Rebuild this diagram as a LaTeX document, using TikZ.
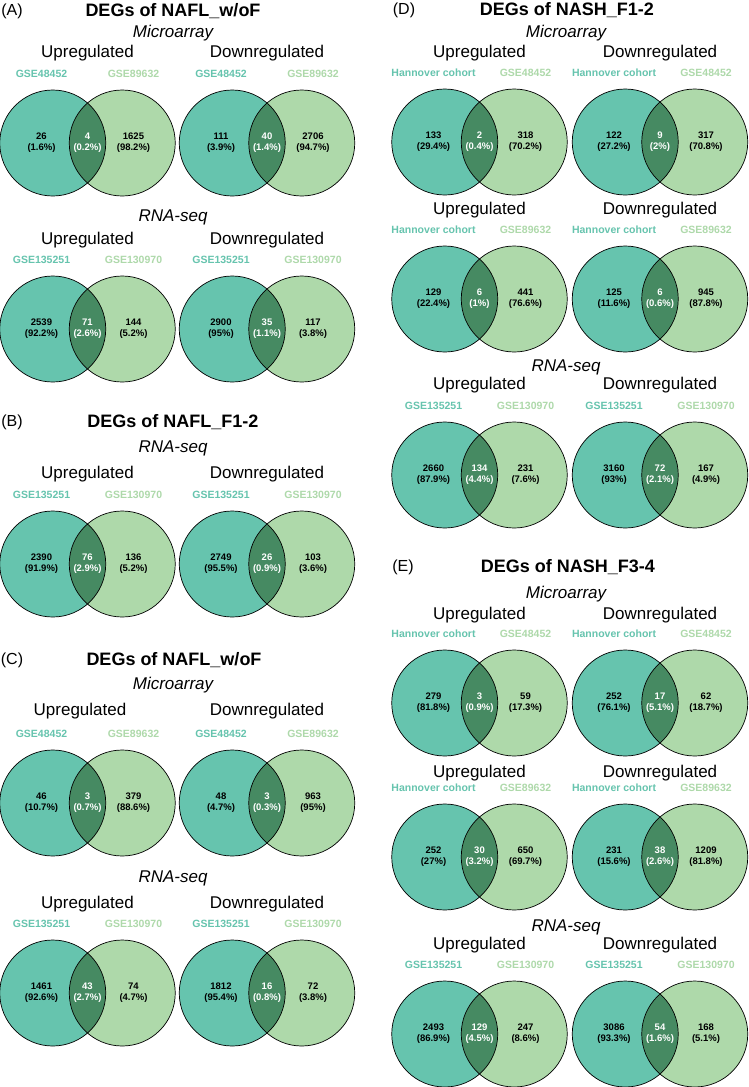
\documentclass[tikz,border=0pt]{standalone}
\usepackage{fontspec}
\setmainfont{Liberation Sans}
\definecolor{vteal}{HTML}{66C4AE}
\definecolor{vgreen}{HTML}{AED9AA}
\definecolor{vdark}{HTML}{468A62}
\tikzset{
  vline/.style={draw=black,line width=0.7pt},
  panel/.style={font=\fontsize{16}{18}\selectfont,inner sep=0pt},
  ptitle/.style={font=\bfseries\fontsize{18}{20}\selectfont,inner sep=0pt},
  method/.style={font=\itshape\fontsize{17}{19}\selectfont,inner sep=0pt},
  regul/.style={font=\fontsize{17}{19}\selectfont,inner sep=0pt},
  setL/.style={font=\bfseries\fontsize{10.5}{12}\selectfont,text=vteal,inner sep=0pt},
  setR/.style={font=\bfseries\fontsize{10.5}{12}\selectfont,text=vgreen,inner sep=0pt},
  num/.style={font=\bfseries\fontsize{9.5}{11}\selectfont,align=center,inner sep=0pt},
}
\newcommand\myvenn[8]{%
  \coordinate (#1cl) at ({#2-34.75},#3);
  \coordinate (#1cr) at ({#2+34.75},#3);
  \fill[vteal] (#1cl) circle (53pt);
  \fill[vgreen] (#1cr) circle (53pt);
  \begin{scope}\clip (#1cl) circle (53pt); \fill[vdark] (#1cr) circle (53pt);\end{scope}
  \draw[vline] (#1cl) circle (53pt) (#1cr) circle (53pt);
  \node[setL] (#1labL) at ({#2-46},{#3-69}) {#4};
  \node[setR] (#1labR) at ({#2+46},{#3-69}) {#5};
  \node[num] (#1nL) at ({#2-46},#3) {#6};
  \node[num,text=white] (#1nI) at (#2,#3) {#7};
  \node[num] (#1nR) at ({#2+46},#3) {#8};
}
\begin{document}
\begin{tikzpicture}[x=1pt,y=-1pt]
\useasboundingbox[fill=white] (0,0) rectangle (748,1087);
% ---------- (A)
\node[panel] (pA) at (12,11) {(A)};
\node[ptitle] (tA) at (173,11) {DEGs of NAFL\_w/oF};
\node[method] (mA1) at (173,33) {Microarray};
\node[regul] (uA1) at (87.5,53) {Upregulated};
\node[regul] (dA1) at (267,53) {Downregulated};
\myvenn{Au1}{87.5}{143}{GSE48452}{GSE89632}{26\\(1.6\%)}{4\\(0.2\%)}{1625\\(98.2\%)}
\myvenn{Ad1}{267}{143}{GSE48452}{GSE89632}{111\\(3.9\%)}{40\\(1.4\%)}{2706\\(94.7\%)}
\node[method] (mA2) at (173,217) {RNA-seq};
\node[regul] (uA2) at (87.5,240) {Upregulated};
\node[regul] (dA2) at (267,240) {Downregulated};
\myvenn{Au2}{87.5}{329}{GSE135251}{GSE130970}{2539\\(92.2\%)}{71\\(2.6\%)}{144\\(5.2\%)}
\myvenn{Ad2}{267}{329}{GSE135251}{GSE130970}{2900\\(95\%)}{35\\(1.1\%)}{117\\(3.8\%)}
% ---------- (B)
\node[panel] (pB) at (12,422) {(B)};
\node[ptitle] (tB) at (173,422) {DEGs of NAFL\_F1-2};
\node[method] (mB1) at (173,448) {RNA-seq};
\node[regul] (uB1) at (87.5,474) {Upregulated};
\node[regul] (dB1) at (267,474) {Downregulated};
\myvenn{Bu1}{87.5}{564}{GSE135251}{GSE130970}{2390\\(91.9\%)}{76\\(2.9\%)}{136\\(5.2\%)}
\myvenn{Bd1}{267}{564}{GSE135251}{GSE130970}{2749\\(95.5\%)}{26\\(0.9\%)}{103\\(3.6\%)}
% ---------- (C)
\node[panel] (pC) at (12,660) {(C)};
\node[ptitle] (tC) at (174,660) {DEGs of NAFL\_w/oF};
\node[method] (mC1) at (173,685) {Microarray};
\node[regul] (uC1) at (80,711) {Upregulated};
\node[regul] (dC1) at (267,711) {Downregulated};
\myvenn{Cu1}{87.5}{803}{GSE48452}{GSE89632}{46\\(10.7\%)}{3\\(0.7\%)}{379\\(88.6\%)}
\myvenn{Cd1}{267}{803}{GSE48452}{GSE89632}{48\\(4.7\%)}{3\\(0.3\%)}{963\\(95\%)}
\node[method] (mC2) at (173,878) {RNA-seq};
\node[regul] (uC2) at (87.5,904) {Upregulated};
\node[regul] (dC2) at (267,904) {Downregulated};
\myvenn{Cu2}{87.5}{993}{GSE135251}{GSE130970}{1461\\(92.6\%)}{43\\(2.7\%)}{74\\(4.7\%)}
\myvenn{Cd2}{267}{993}{GSE135251}{GSE130970}{1812\\(95.4\%)}{16\\(0.8\%)}{72\\(3.8\%)}
% ---------- (D)
\node[panel] (pD) at (404,10) {(D)};
\node[ptitle] (tD) at (567,10) {DEGs of NASH\_F1-2};
\node[method] (mD1) at (566,33) {Microarray};
\node[regul] (uD1) at (479.5,53) {Upregulated};
\node[regul] (dD1) at (660,53) {Downregulated};
\myvenn{Du1}{479.5}{142}{Hannover cohort}{GSE48452}{133\\(29.4\%)}{2\\(0.4\%)}{318\\(70.2\%)}
\myvenn{Dd1}{660}{142}{Hannover cohort}{GSE48452}{122\\(27.2\%)}{9\\(2\%)}{317\\(70.8\%)}
\node[regul] (uD2) at (479.5,210) {Upregulated};
\node[regul] (dD2) at (660,210) {Downregulated};
\myvenn{Du2}{479.5}{299}{Hannover cohort}{GSE89632}{129\\(22.4\%)}{6\\(1\%)}{441\\(76.6\%)}
\myvenn{Dd2}{660}{299}{Hannover cohort}{GSE89632}{125\\(11.6\%)}{6\\(0.6\%)}{945\\(87.8\%)}
\node[method] (mD2) at (566,367) {RNA-seq};
\node[regul] (uD3) at (479.5,385) {Upregulated};
\node[regul] (dD3) at (660,385) {Downregulated};
\myvenn{Du3}{479.5}{475}{GSE135251}{GSE130970}{2660\\(87.9\%)}{134\\(4.4\%)}{231\\(7.6\%)}
\myvenn{Dd3}{660}{475}{GSE135251}{GSE130970}{3160\\(93\%)}{72\\(2.1\%)}{167\\(4.9\%)}
% ---------- (E)
\node[panel] (pE) at (403,567) {(E)};
\node[ptitle] (tE) at (568,567) {DEGs of NASH\_F3-4};
\node[method] (mE1) at (566,594) {Microarray};
\node[regul] (uE1) at (479.5,615) {Upregulated};
\node[regul] (dE1) at (660,615) {Downregulated};
\myvenn{Eu1}{479.5}{703}{Hannover cohort}{GSE48452}{279\\(81.8\%)}{3\\(0.9\%)}{59\\(17.3\%)}
\myvenn{Ed1}{660}{703}{Hannover cohort}{GSE48452}{252\\(76.1\%)}{17\\(5.1\%)}{62\\(18.7\%)}
\node[regul] (uE2) at (479.5,773) {Upregulated};
\node[regul] (dE2) at (660,773) {Downregulated};
\myvenn{Eu2}{479.5}{857}{Hannover cohort}{GSE89632}{252\\(27\%)}{30\\(3.2\%)}{650\\(69.7\%)}
\myvenn{Ed2}{660}{857}{Hannover cohort}{GSE89632}{231\\(15.6\%)}{38\\(2.6\%)}{1209\\(81.8\%)}
\node[method] (mE2) at (566,927) {RNA-seq};
\node[regul] (uE3) at (479.5,945) {Upregulated};
\node[regul] (dE3) at (660,945) {Downregulated};
\myvenn{Eu3}{479.5}{1034}{GSE135251}{GSE130970}{2493\\(86.9\%)}{129\\(4.5\%)}{247\\(8.6\%)}
\myvenn{Ed3}{660}{1034}{GSE135251}{GSE130970}{3086\\(93.3\%)}{54\\(1.6\%)}{168\\(5.1\%)}
\end{tikzpicture}
\end{document}
